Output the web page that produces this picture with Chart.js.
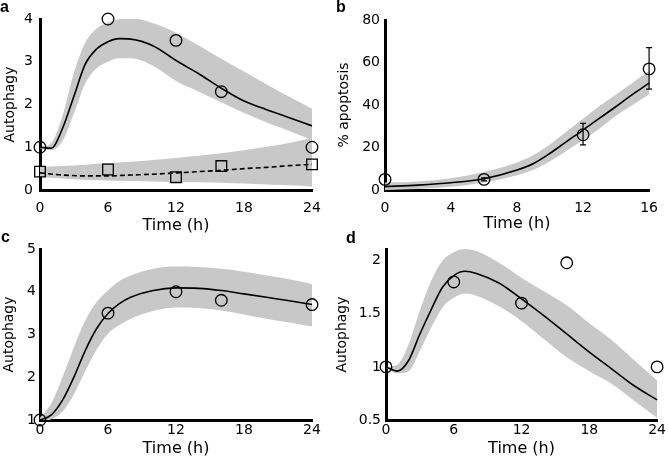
<!DOCTYPE html>
<html>
<head>
<meta charset="utf-8">
<script src="https://cdn.jsdelivr.net/npm/chart.js@4.4.1/dist/chart.umd.min.js"></script>
<style>
  body { margin: 0; background: #fff; }
  #fig { position: relative; width: 668px; height: 468px; overflow: hidden; }
  canvas { position: absolute; }
  .tag { position: absolute; font: bold 16px "Liberation Sans", Arial, sans-serif; line-height: 16px; color: #000; }
</style>
</head>
<body>
<div id="fig">
  <canvas id="panelA" width="334" height="234" style="left:0;top:0"></canvas>
  <canvas id="panelB" width="334" height="234" style="left:334px;top:0"></canvas>
  <canvas id="panelC" width="334" height="234" style="left:0;top:234px"></canvas>
  <canvas id="panelD" width="334" height="234" style="left:334px;top:234px"></canvas>
  <div class="tag" style="left:0;top:-1px">a</div>
  <div class="tag" style="left:336px;top:-1px">b</div>
  <div class="tag" style="left:1px;top:229px">c</div>
  <div class="tag" style="left:346px;top:230px">d</div>
</div>
<script>
// panel a - autophagy (circles) and control (squares)
const hoursA = [0, 1, 2, 3, 4, 5, 6, 7, 8, 10, 12, 14, 16, 18, 20, 22, 24];
const modelA = [1.0, 0.98, 1.45, 2.2, 2.95, 3.3, 3.47, 3.54, 3.53, 3.37, 3.03, 2.72, 2.38, 2.08, 1.88, 1.69, 1.5];
const upperA = [1.0, 1.1, 1.75, 2.75, 3.45, 3.78, 3.92, 4.0, 4.02, 3.9, 3.68, 3.38, 3.07, 2.77, 2.47, 2.18, 1.9];
const lowerA = [0.97, 0.93, 1.15, 1.8, 2.5, 2.85, 3.0, 3.08, 3.08, 2.9, 2.55, 2.3, 2.05, 1.8, 1.58, 1.38, 1.17];
const ctrlHoursA = [0, 2, 4, 6, 8, 10, 12, 14, 16, 18, 20, 22, 24];
const ctrlModelA = [0.4, 0.35, 0.33, 0.33, 0.35, 0.37, 0.4, 0.43, 0.46, 0.5, 0.53, 0.57, 0.6];
const ctrlUpperA = [0.54, 0.56, 0.59, 0.63, 0.66, 0.7, 0.75, 0.8, 0.86, 0.93, 1.01, 1.1, 1.22];
const ctrlLowerA = [0.31, 0.27, 0.24, 0.22, 0.21, 0.2, 0.19, 0.18, 0.17, 0.15, 0.13, 0.11, 0.08];
const obsHours = [0, 6, 12, 16, 24];
const obsA = [1.0, 4.0, 3.5, 2.3, 1.0];
const ctrlObsA = [0.43, 0.48, 0.3, 0.56, 0.6];

// panel b - apoptosis
const hoursB = [0, 2, 4, 6, 8, 9, 10, 11, 12, 13, 14, 15, 16];
const modelB = [1.6, 2.3, 3.4, 5.3, 9.4, 12.5, 17.3, 22.8, 28.2, 33.8, 39.3, 45, 50.3];
const upperB = [3.5, 4, 5.5, 8.5, 13, 16.5, 21.5, 27.5, 33.5, 39.5, 45, 50.5, 56];
const lowerB = [0, 0.5, 1.5, 3.5, 7, 9.5, 13.5, 18.5, 23.5, 29, 35, 40, 45];
const obsHoursB = [0, 6, 12, 16];
const obsB = [5, 5, 26, 57];
const errHoursB = [6, 12, 16];
const errLowB = [4.3, 21.2, 47.5];
const errHighB = [5.7, 31.4, 67];

// panel c
const hoursCD = [0, 1, 2, 3, 4, 5, 6, 7, 8, 10, 12, 14, 16, 18, 20, 22, 24];
const modelC = [1.0, 1.12, 1.47, 2.01, 2.63, 3.14, 3.49, 3.72, 3.87, 4.03, 4.09, 4.08, 4.03, 3.95, 3.87, 3.79, 3.7];
const upperC = [1.05, 1.39, 2.01, 2.71, 3.33, 3.76, 4.03, 4.25, 4.38, 4.54, 4.59, 4.58, 4.54, 4.47, 4.38, 4.29, 4.18];
const lowerC = [0.97, 1.02, 1.2, 1.6, 2.15, 2.65, 3.02, 3.22, 3.37, 3.55, 3.63, 3.62, 3.56, 3.47, 3.37, 3.28, 3.19];
const obsC = [1.0, 3.5, 4.0, 3.8, 3.7];

// panel d
const modelD = [1.0, 0.96, 1.06, 1.31, 1.54, 1.75, 1.86, 1.9, 1.88, 1.79, 1.64, 1.48, 1.31, 1.14, 0.98, 0.82, 0.69];
const upperD = [1.0, 1.02, 1.21, 1.53, 1.81, 2.0, 2.08, 2.11, 2.09, 1.98, 1.84, 1.71, 1.58, 1.41, 1.25, 1.06, 0.87];
const lowerD = [0.99, 0.94, 0.96, 1.15, 1.37, 1.56, 1.65, 1.69, 1.67, 1.57, 1.43, 1.26, 1.09, 0.96, 0.84, 0.68, 0.52];
const obsD = [1.0, 1.8, 1.6, 1.98, 1.0];

// axis ticks
const hourTicks = [0, 6, 12, 18, 24];
const hourTicksB = [0, 4, 8, 12, 16];
const yTicksA = [0, 1, 2, 3, 4];
const yTicksB = [0, 20, 40, 60, 80];
const yTicksC = [1, 2, 3, 4, 5];
const yTicksD = [0.5, 1, 1.5, 2];

const GREY = "#c8c8c8";
const FONT = "'DejaVu Sans', sans-serif";

const xy = (xs, ys) => xs.map((x, i) => ({ x: x, y: ys[i] }));

const band = (xs, hi, lo) => [
  { data: xy(xs, hi), borderWidth: 0, pointRadius: 0, fill: false, cubicInterpolationMode: "monotone", order: 3 },
  { data: xy(xs, lo), borderWidth: 0, pointRadius: 0, fill: "-1", backgroundColor: GREY, cubicInterpolationMode: "monotone", order: 3 },
];

const curve = (xs, ys, dash) => ({
  data: xy(xs, ys), borderColor: "#000", borderWidth: 1.6, borderDash: dash || [],
  pointRadius: 0, cubicInterpolationMode: "monotone", fill: false, clip: false, order: 2,
});

const marks = (xs, ys, style) => ({
  data: xy(xs, ys), showLine: false, pointStyle: style || "circle",
  pointRadius: style === "rect" ? 7.5 : 5.8, borderColor: "#000", borderWidth: 1.3,
  backgroundColor: "rgba(0,0,0,0)", clip: false, order: 1,
});

// error bars drawn through the chart's scales
const errorBars = {
  id: "errorBars",
  afterDatasetsDraw(chart, args, opts) {
    if (!opts.time) return;
    const { ctx } = chart;
    const x = chart.scales.x, y = chart.scales.y;
    ctx.save();
    ctx.strokeStyle = "#000";
    ctx.lineWidth = 1.2;
    opts.time.forEach((t, i) => {
      const px = x.getPixelForValue(t);
      const lo = y.getPixelForValue(opts.low[i]);
      const hi = y.getPixelForValue(opts.high[i]);
      ctx.beginPath();
      ctx.moveTo(px, lo); ctx.lineTo(px, hi);
      ctx.moveTo(px - 3, lo); ctx.lineTo(px + 3, lo);
      ctx.moveTo(px - 3, hi); ctx.lineTo(px + 3, hi);
      ctx.stroke();
    });
    ctx.restore();
  },
};

const makePanel = (id, datasets, p) => {
  new Chart(document.getElementById(id), {
    type: "line",
    data: { datasets: datasets },
    plugins: [errorBars],
    options: {
      responsive: false,
      animation: false,
      events: [],
      layout: { padding: { top: p.top, right: p.right, left: 0, bottom: 0 } },
      plugins: {
        legend: { display: false },
        tooltip: { enabled: false },
        errorBars: p.err || {},
      },
      scales: {
        x: {
          type: "linear", min: p.xTicks[0], max: p.xTicks[p.xTicks.length - 1],
          afterFit: (s) => { s.height = p.xH; },
          afterBuildTicks: (s) => { s.ticks = p.xTicks.map((v) => ({ value: v })); },
          grid: { display: false, drawTicks: false },
          border: { display: true, color: "#000", width: 3 },
          ticks: { color: "#000", font: { family: FONT, size: 14 }, padding: p.xPad, maxRotation: 0,
            callback: (v) => String(v) },
          title: { display: true, text: "Time (h)", color: "#000",
            font: { family: FONT, size: 16, lineHeight: 1 }, padding: { top: 0, bottom: p.xTitlePad } },
        },
        y: {
          type: "linear", min: p.yTicks[0], max: p.yMax,
          afterFit: (s) => { s.width = p.yW; },
          afterBuildTicks: (s) => { s.ticks = p.yTicks.map((v) => ({ value: v })); },
          grid: { display: false, drawTicks: false },
          border: { display: true, color: "#000", width: 3 },
          ticks: { color: "#000", font: { family: FONT, size: 14 }, padding: p.yPad,
            callback: (v) => String(v) },
          title: { display: true, text: p.yTitle, color: "#000",
            font: { family: FONT, size: 14, lineHeight: 1 }, padding: { top: p.yTitlePad, bottom: 0 } },
        },
      },
    },
  });
};

makePanel("panelA", [
  ...band(hoursA, upperA, lowerA),
  ...band(ctrlHoursA, ctrlUpperA, ctrlLowerA),
  curve(hoursA, modelA),
  curve(ctrlHoursA, ctrlModelA, [5, 3]),
  marks(obsHours, obsA),
  marks(obsHours, ctrlObsA, "rect"),
], { top: 19, right: 22, yW: 40, xH: 44, xTicks: hourTicks, yTicks: yTicksA, yMax: 4,
     xPad: 10, yPad: 7, xTitlePad: 0, yTitlePad: 3, yTitle: "Autophagy" });

makePanel("panelB", [
  ...band(hoursB, upperB, lowerB),
  curve(hoursB, modelB),
  marks(obsHoursB, obsB),
], { top: 20, right: 9, yW: 51, xH: 44, xTicks: hourTicksB, yTicks: yTicksB, yMax: 80,
     xPad: 10, yPad: 5, xTitlePad: 2, yTitlePad: 3, yTitle: "% apoptosis",
     err: { time: errHoursB, low: errLowB, high: errHighB } });

makePanel("panelC", [
  ...band(hoursCD, upperC, lowerC),
  curve(hoursCD, modelC),
  marks(obsHours, obsC),
], { top: 15, right: 22, yW: 40, xH: 48, xTicks: hourTicks, yTicks: yTicksC, yMax: 5,
     xPad: 2, yPad: 4, xTitlePad: 11, yTitlePad: 2, yTitle: "Autophagy" });

makePanel("panelD", [
  ...band(hoursCD, upperD, lowerD),
  curve(hoursCD, modelD),
  marks(obsHours, obsD),
], { top: 15, right: 10, yW: 52, xH: 48, xTicks: hourTicks, yTicks: yTicksD, yMax: 2.11,
     xPad: 2, yPad: 5, xTitlePad: 11, yTitlePad: 1, yTitle: "Autophagy" });
</script>
</body>
</html>
